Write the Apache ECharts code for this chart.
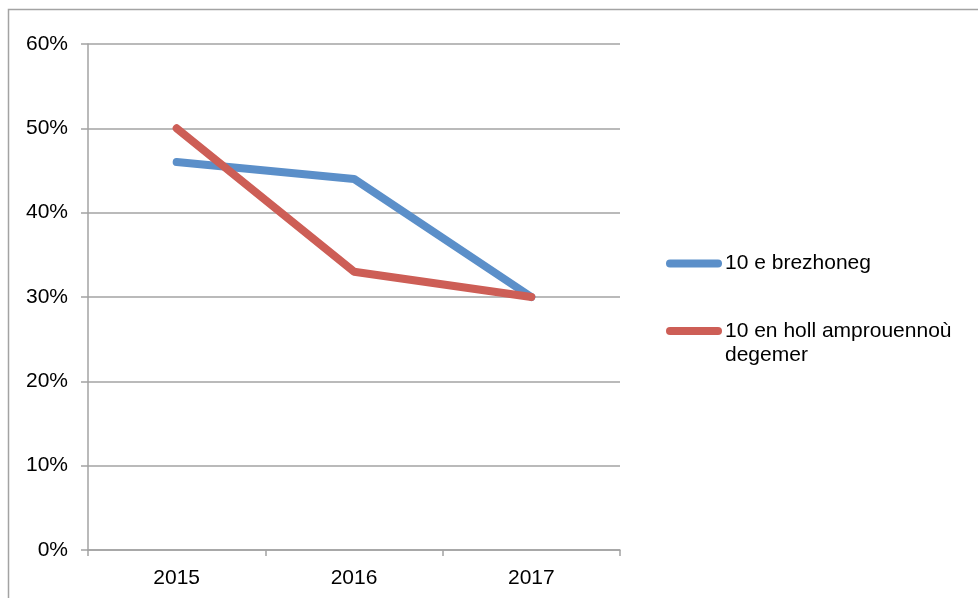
<!DOCTYPE html>
<html>
<head>
<meta charset="utf-8">
<script src="https://cdn.jsdelivr.net/npm/echarts@6/dist/echarts.min.js"></script>
<style>
  html, body { margin: 0; padding: 0; background: #fff; }
  #chart { width: 978px; height: 598px; }
</style>
</head>
<body>
<div id="chart"></div>
<script>
// data
const years = ['2015', '2016', '2017']
const brezhoneg = [0.46, 0.44, 0.30]
const degemer = [0.50, 0.33, 0.30]
const nameBlue = '10 e brezhoneg'
const nameRed = '10 en holl amprouennoù\ndegemer'

const gray = '#a3a3a3'
const font = '"Liberation Sans", Arial, sans-serif'
// line-shaped legend icon with round ends
const lineIcon = 'path://M4,0 L52,0 A4,4 0 0 1 52,8 L4,8 A4,4 0 0 1 4,0 Z'

const chart = echarts.init(document.getElementById('chart'))

chart.setOption({
  animation: false,
  textStyle: { fontFamily: font },
  graphic: [{
    type: 'rect',
    shape: { x: 8.5, y: 9.5, width: 1200, height: 1200 },
    style: { fill: 'none', stroke: gray, lineWidth: 1.5 }
  }],
  grid: {
    left: 88,
    top: 44,
    right: 358,
    bottom: 48
  },
  legend: [{
    orient: 'vertical',
    left: 661,
    top: 248,
    itemWidth: 56,
    itemHeight: 8,
    icon: lineIcon,
    textStyle: { fontSize: 21, color: '#000', fontFamily: font, padding: [0, 0, 0, -2] },
    data: [nameBlue]
  }, {
    orient: 'vertical',
    left: 661,
    top: 290,
    itemWidth: 56,
    itemHeight: 8,
    icon: lineIcon,
    // blank first line keeps the icon level with the first text line
    formatter: name => '\n' + name,
    textStyle: { fontSize: 21, color: '#000', fontFamily: font, lineHeight: 24, padding: [0, 0, 0, -2] },
    data: [nameRed]
  }],
  xAxis: {
    type: 'category',
    data: years,
    boundaryGap: true,
    axisLine: { lineStyle: { color: gray, width: 1.5 } },
    axisTick: { show: true, length: 6, lineStyle: { color: gray, width: 1.5 } },
    axisLabel: { fontSize: 21, color: '#000', margin: 18 }
  },
  yAxis: {
    type: 'value',
    min: 0,
    max: 0.6,
    interval: 0.1,
    axisLine: { show: true, lineStyle: { color: gray, width: 1.5 } },
    axisTick: { show: true, length: 7, lineStyle: { color: gray, width: 1.5 } },
    splitLine: { lineStyle: { color: gray, width: 1.5 } },
    axisLabel: {
      fontSize: 21,
      color: '#000',
      margin: 20,
      formatter: v => Math.round(v * 100) + '%'
    }
  },
  series: [{
    name: nameBlue,
    type: 'line',
    data: brezhoneg,
    symbol: 'none',
    color: '#5b8fc9',
    lineStyle: { width: 8, cap: 'round', join: 'round' }
  }, {
    name: nameRed,
    type: 'line',
    data: degemer,
    symbol: 'none',
    color: '#cd5e56',
    lineStyle: { width: 8, cap: 'round', join: 'round' }
  }]
})
</script>
</body>
</html>
